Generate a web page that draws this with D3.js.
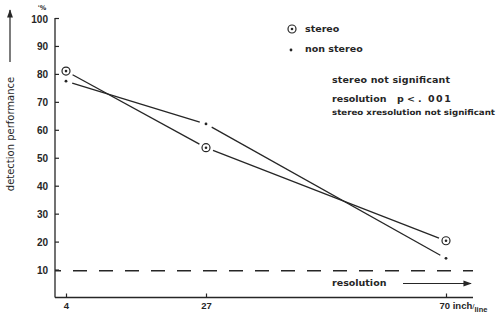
<!DOCTYPE html>
<html lang="en">
<head>
<meta charset="UTF-8">
<title>detection performance</title>
<script src="https://d3js.org/d3.v7.min.js"></script>
<style>
    body { margin: 0; background: #fff; }
    svg { display: block; font-family: "DejaVu Sans", sans-serif; }
    .ink { stroke: #262626; fill: none; }
    text { fill: #262626; }
</style>
</head>
<body>
<svg id="chart" width="499" height="318"></svg>
<script>
    // data
    let resolution = [4, 27, 70];
    let stereo = [81.0, 53.6, 20.3];
    let nonStereo = [77.4, 62.1, 14.0];
    let baseline = 9.6;
    let yTicks = [10, 20, 30, 40, 50, 60, 70, 80, 90, 100];
    let statLines = ["stereo not significant", "resolution", "stereo xresolution not significant"];

    let svg = d3.select("#chart");

    // scales (x axis spacing in the original is not even)
    let x = d3.scaleLinear().domain(resolution).range([66, 206, 446]);
    let y = d3.scaleLinear().domain([0, 100]).range([297.5, 18]);
    let xEnd = 473;

    // y axis
    let yAxis = svg.append("g")
        .attr("transform", "translate(55,0)")
        .call(d3.axisLeft(y).tickValues(yTicks).tickSizeInner(-4).tickSizeOuter(0).tickPadding(7));
    yAxis.select(".domain").remove();
    yAxis.selectAll("line").attr("stroke", "#262626").attr("stroke-width", 1.2);
    yAxis.selectAll("text").attr("font-size", 10).attr("font-weight", "bold").attr("fill", "#262626")
        .attr("dy", "0.4em");

    // x axis
    let xAxis = svg.append("g")
        .attr("transform", "translate(0," + y(0) + ")")
        .call(d3.axisBottom(x).tickValues(resolution).tickSizeInner(-4).tickSizeOuter(0).tickPadding(5));
    xAxis.select(".domain").remove();
    xAxis.selectAll("line").attr("stroke", "#262626").attr("stroke-width", 1.2);
    xAxis.selectAll("text").attr("font-size", 9.5).attr("font-weight", "bold").attr("fill", "#262626");
    xAxis.selectAll(".tick").filter(d => d === 70).select("text")
        .text(null)
        .attr("text-anchor", "start")
        .attr("x", -7)
        .call(t => {
            t.append("tspan").text("70 inch");
            t.append("tspan").attr("font-size", 8).attr("font-weight", "normal").text("/");
            t.append("tspan").attr("font-size", 7.5).attr("dy", 3).text("line");
        });

    // axis lines
    svg.append("line").attr("class", "ink").attr("stroke-width", 1.3)
        .attr("x1", 55).attr("x2", 55).attr("y1", y(100)).attr("y2", y(0));
    svg.append("line").attr("class", "ink").attr("stroke-width", 1.3)
        .attr("x1", 55).attr("x2", xEnd).attr("y1", y(0)).attr("y2", y(0));

    svg.append("text").attr("x", 42).attr("y", 10).attr("font-size", 6.5).attr("font-weight", "bold")
        .attr("text-anchor", "middle").text("'%");

    // arrows
    let defs = svg.append("defs");
    defs.append("marker").attr("id", "head")
        .attr("viewBox", "0 0 10 10").attr("refX", 9).attr("refY", 5)
        .attr("markerWidth", 7).attr("markerHeight", 7).attr("orient", "auto")
        .append("path").attr("d", "M0,1.5L10,5L0,8.5Z").attr("fill", "#262626");

    svg.append("line").attr("class", "ink").attr("stroke-width", 1.2)
        .attr("x1", 10).attr("x2", 10).attr("y1", 62).attr("y2", 10)
        .attr("marker-end", "url(#head)");
    svg.append("text")
        .attr("transform", "translate(14,134) rotate(-90)")
        .attr("text-anchor", "middle").attr("font-size", 10)
        .text("detection performance");

    // dashed baseline
    svg.append("line").attr("class", "ink").attr("stroke-width", 1.5)
        .attr("stroke-dasharray", "14,12").attr("stroke-dashoffset", 8)
        .attr("x1", 55).attr("x2", xEnd).attr("y1", y(baseline)).attr("y2", y(baseline));

    svg.append("text").attr("x", 332).attr("y", 286).attr("font-size", 9.5).attr("font-weight", "bold")
        .text("resolution");
    svg.append("line").attr("class", "ink").attr("stroke-width", 1.2)
        .attr("x1", 403).attr("x2", 471).attr("y1", 283.5).attr("y2", 283.5)
        .attr("marker-end", "url(#head)");

    // series lines, broken short of each marker
    function segments(vals, gap) {
        let pts = resolution.map((r, i) => [x(r), y(vals[i])]);
        let segs = [];
        for (let i = 0; i < pts.length - 1; i++) {
            let [x1, y1] = pts[i], [x2, y2] = pts[i + 1];
            let len = Math.hypot(x2 - x1, y2 - y1);
            let ux = (x2 - x1) / len, uy = (y2 - y1) / len;
            segs.push([x1 + ux * gap, y1 + uy * gap, x2 - ux * gap, y2 - uy * gap]);
        }
        return segs;
    }
    [[stereo, 7.5], [nonStereo, 6.5]].forEach(([vals, gap]) => {
        svg.append("g").selectAll("line").data(segments(vals, gap)).join("line")
            .attr("class", "ink").attr("stroke-width", 1.3)
            .attr("x1", d => d[0]).attr("y1", d => d[1])
            .attr("x2", d => d[2]).attr("y2", d => d[3]);
    });

    // markers
    function stereoMark(g, cx, cy) {
        g.append("circle").attr("cx", cx).attr("cy", cy).attr("r", 4)
            .attr("class", "ink").attr("stroke-width", 1.2);
        g.append("circle").attr("cx", cx).attr("cy", cy).attr("r", 1.3).attr("fill", "#262626");
    }
    function dotMark(g, cx, cy) {
        g.append("circle").attr("cx", cx).attr("cy", cy).attr("r", 1.4).attr("fill", "#262626");
    }
    let marks = svg.append("g");
    resolution.forEach((r, i) => {
        stereoMark(marks, x(r), y(stereo[i]));
        dotMark(marks, x(r), y(nonStereo[i]));
    });

    // legend
    stereoMark(marks, 292, 29);
    dotMark(marks, 291, 50);
    svg.append("text").attr("x", 305).attr("y", 32).attr("font-size", 9.5).attr("font-weight", "bold").text("stereo");
    svg.append("text").attr("x", 305).attr("y", 52).attr("font-size", 9.5).attr("font-weight", "bold").text("non stereo");

    // significance notes
    let notes = svg.append("g").attr("font-size", 9.5).attr("font-weight", "bold");
    notes.append("text").attr("x", 332).attr("y", 83).attr("textLength", 118).text(statLines[0]);
    notes.append("text").attr("x", 332).attr("y", 101.5).text(statLines[1]);
    notes.append("text").attr("x", 397).attr("y", 101.5).text("p <");
    notes.append("text").attr("x", 418).attr("y", 101.5).attr("letter-spacing", 1.5).text(". 001");
    notes.append("text").attr("x", 332).attr("y", 114.5).attr("font-size", 7.8)
        .attr("textLength", 163).attr("lengthAdjust", "spacingAndGlyphs").text(statLines[2]);
</script>
</body>
</html>
